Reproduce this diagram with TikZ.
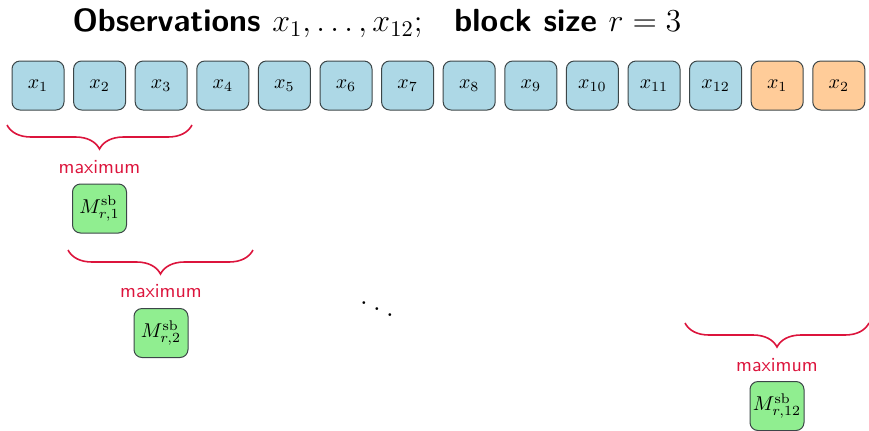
\RequirePackage{fix-cm}
\documentclass[tikz,border=0pt]{standalone}
\usetikzlibrary{decorations.pathreplacing}
\definecolor{boxblue}{RGB}{173,216,230}
\definecolor{boxorange}{RGB}{255,204,153}
\definecolor{boxgreen}{RGB}{144,238,144}
\definecolor{bracered}{RGB}{220,20,60}
\definecolor{edgegray}{RGB}{60,70,72}
\tikzset{
  obs/.style={draw=edgegray, line width=0.5pt, rounded corners=4pt, fill=boxblue,
    minimum width=26pt, minimum height=24.5pt, inner sep=1pt},
  wrap/.style={obs, fill=boxorange},
  maxbox/.style={obs, fill=boxgreen, minimum width=27pt},
  blockbrace/.style={draw=bracered, line width=0.8pt,
    decorate, decoration={brace, mirror, amplitude=12pt}},
  maxlabel/.style={text=bracered, font=\sffamily},
}
\begin{document}
\begin{tikzpicture}[x=0.5pt, y=-0.5pt]
\useasboundingbox (0,0) rectangle (869,430);
\node[font=\fontsize{16}{19}\selectfont\sffamily\bfseries] (title) at (377,23)
  {Observations $x_1,\ldots,x_{12};$\quad block size $r=3$};
\foreach \i in {1,...,12}{
  \node[obs] (b\i) at ({38+61.6*(\i-1)},85.5) {$x_{\i}$};
}
\node[wrap] (b13) at ({38+61.6*12},85.5) {$x_1$};
\node[wrap] (b14) at ({38+61.6*13},85.5) {$x_2$};
% block 1
\coordinate (s1) at (7,125); \coordinate (e1) at (192,125);
\draw[blockbrace] (s1) -- (e1);
\node[maxlabel] (l1) at (99.5,167) {maximum};
\node[maxbox] (m1) at (99.5,208.5) {$M^{\mathrm{sb}}_{r,1}$};
% block 2
\coordinate (s2) at (68,250); \coordinate (e2) at (253,250);
\draw[blockbrace] (s2) -- (e2);
\node[maxlabel] (l2) at (161,291) {maximum};
\node[maxbox] (m2) at (161,333) {$M^{\mathrm{sb}}_{r,2}$};
% dots
\node[font=\LARGE\boldmath] (dots) at (377,303) {$\ddots$};
% block 12
\coordinate (s12) at (685,323); \coordinate (e12) at (869,323);
\draw[blockbrace] (s12) -- (e12);
\node[maxlabel] (l12) at (777,365) {maximum};
\node[maxbox] (m12) at (777,406) {$M^{\mathrm{sb}}_{r,12}$};
\end{tikzpicture}
\end{document}
